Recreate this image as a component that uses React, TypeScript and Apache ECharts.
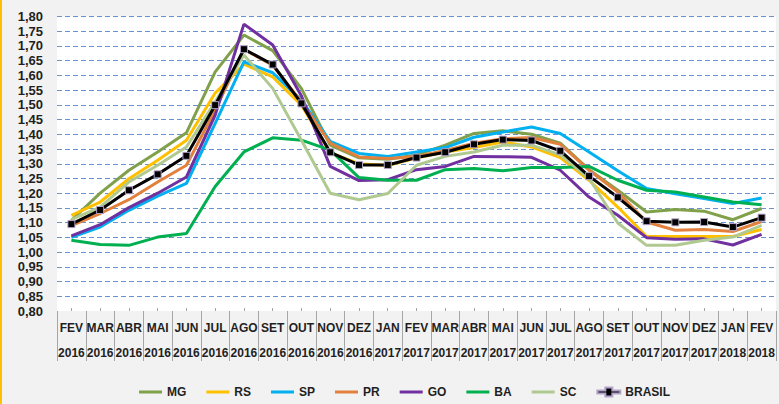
import React, { useEffect, useRef } from "react";
import * as echarts from "echarts";

const categories = [
  "FEV\n2016", "MAR\n2016", "ABR\n2016", "MAI\n2016", "JUN\n2016", "JUL\n2016", "AGO\n2016",
  "SET\n2016", "OUT\n2016", "NOV\n2016", "DEZ\n2016", "JAN\n2017", "FEV\n2017", "MAR\n2017",
  "ABR\n2017", "MAI\n2017", "JUN\n2017", "JUL\n2017", "AGO\n2017", "SET\n2017", "OUT\n2017",
  "NOV\n2017", "DEZ\n2017", "JAN\n2018", "FEV\n2018",
];

const MG = [1.108, 1.2, 1.278, 1.34, 1.405, 1.612, 1.737, 1.684, 1.555, 1.363, 1.32, 1.315, 1.33, 1.363, 1.403, 1.412, 1.4, 1.37, 1.28, 1.21, 1.136, 1.145, 1.139, 1.11, 1.148];
const RS = [1.125, 1.17, 1.249, 1.312, 1.38, 1.54, 1.638, 1.595, 1.499, 1.337, 1.3, 1.294, 1.32, 1.34, 1.355, 1.374, 1.357, 1.321, 1.244, 1.153, 1.053, 1.053, 1.053, 1.053, 1.077];
const SP = [1.05, 1.085, 1.142, 1.19, 1.233, 1.437, 1.646, 1.609, 1.516, 1.376, 1.335, 1.325, 1.34, 1.355, 1.39, 1.408, 1.425, 1.403, 1.34, 1.276, 1.216, 1.198, 1.182, 1.165, 1.184];
const PR = [1.09, 1.131, 1.178, 1.238, 1.295, 1.482, 1.688, 1.635, 1.51, 1.37, 1.323, 1.318, 1.325, 1.345, 1.37, 1.385, 1.389, 1.366, 1.278, 1.204, 1.102, 1.074, 1.077, 1.07, 1.104];
const GO = [1.055, 1.093, 1.151, 1.2, 1.255, 1.465, 1.774, 1.703, 1.53, 1.291, 1.243, 1.246, 1.28, 1.291, 1.325, 1.324, 1.322, 1.278, 1.187, 1.125, 1.049, 1.044, 1.045, 1.024, 1.06];
const BA = [1.04, 1.026, 1.023, 1.051, 1.063, 1.223, 1.34, 1.388, 1.38, 1.346, 1.253, 1.244, 1.244, 1.28, 1.284, 1.276, 1.287, 1.287, 1.291, 1.244, 1.21, 1.204, 1.187, 1.17, 1.161];
const SC = [1.11, 1.153, 1.238, 1.295, 1.357, 1.51, 1.669, 1.556, 1.38, 1.2, 1.178, 1.199, 1.295, 1.325, 1.34, 1.363, 1.363, 1.33, 1.25, 1.099, 1.023, 1.023, 1.04, 1.051, 1.091];
const BRASIL = [1.095, 1.143, 1.21, 1.264, 1.327, 1.499, 1.689, 1.637, 1.505, 1.339, 1.296, 1.296, 1.321, 1.339, 1.366, 1.382, 1.379, 1.344, 1.258, 1.186, 1.105, 1.101, 1.102, 1.085, 1.117];

const seriesDefs = [
  { name: "MG", data: MG, color: "#80a04a" },
  { name: "RS", data: RS, color: "#ffc000" },
  { name: "SP", data: SP, color: "#00b0f0" },
  { name: "PR", data: PR, color: "#e2803e" },
  { name: "GO", data: GO, color: "#7030a0" },
  { name: "BA", data: BA, color: "#00b050" },
  { name: "SC", data: SC, color: "#b0c991" },
];

const FONT = "'Liberation Sans', Arial, sans-serif";
const LINE_ICON = "path://M0,0 L23,0 L23,3 L0,3 Z";
const MARKER_ICON = "path://M0,3 L8,3 L8,0 L15,0 L15,3 L23,3 L23,6 L15,6 L15,9 L8,9 L8,6 L0,6 Z";

export default function App() {
  const ref = useRef<HTMLDivElement>(null);
  useEffect(() => {
    if (!ref.current) return;
    const chart = echarts.init(ref.current, null, { renderer: "svg" });
    const gridColors = ["rgba(0,0,0,0)"];
    for (let i = 0; i < 20; i++) gridColors.push("#6a92cb");
    const series: any[] = seriesDefs.map((s) => ({
      name: s.name,
      type: "line",
      data: s.data,
      symbol: "none",
      lineStyle: { color: s.color, width: 3 },
      itemStyle: { color: s.color },
      xAxisIndex: 0,
    }));
    series.push({
      name: "BRASIL",
      type: "line",
      data: BRASIL,
      symbol: "rect",
      symbolSize: 7,
      showSymbol: true,
      lineStyle: { color: "#000000", width: 3 },
      itemStyle: { color: "#000000", borderColor: "#b3a2c7", borderWidth: 1 },
      xAxisIndex: 0,
      z: 5,
    });
    const legendData: any[] = seriesDefs.map((s) => ({ name: s.name, icon: LINE_ICON }));
    legendData.push({ name: "BRASIL", icon: MARKER_ICON });
    chart.setOption({
      animation: false,
      backgroundColor: "#f2f2f2",
      textStyle: { fontFamily: FONT },
      grid: {
        left: 57,
        right: 3,
        top: 16.5,
        bottom: 93,
        show: true,
        backgroundColor: "#ffffff",
        borderWidth: 0,
      },
      legend: {
        left: 139,
        top: 386,
        padding: 0,
        itemWidth: 23,
        itemHeight: 14,
        itemGap: 20,
        symbolKeepAspect: true,
        textStyle: { fontFamily: FONT, fontWeight: "bold", fontSize: 12, color: "#1f1f1f" },
        data: legendData,
      },
      xAxis: [
        {
          type: "category",
          data: categories,
          boundaryGap: true,
          axisLine: { show: false },
          axisTick: { show: true, length: 50, interval: 0, lineStyle: { color: "#a6a6a6", width: 1 } },
          axisLabel: {
            interval: 0,
            margin: 4,
            fontFamily: FONT,
            fontWeight: "bold",
            fontSize: 12,
            lineHeight: 25,
            color: "#1f1f1f",
          },
          splitLine: { show: false },
        },
        {
          type: "category",
          data: categories,
          boundaryGap: true,
          position: "bottom",
          axisLine: { show: false },
          axisTick: { show: true, inside: true, alignWithLabel: true, length: 3, interval: 0, lineStyle: { color: "#a6a6a6" } },
          axisLabel: { show: false },
          splitLine: { show: false },
        },
      ],
      yAxis: {
        type: "value",
        min: 0.8,
        max: 1.8,
        interval: 0.05,
        axisLine: { show: false },
        axisTick: { show: false },
        axisLabel: {
          margin: 14,
          fontFamily: FONT,
          fontWeight: "bold",
          fontSize: 13,
          color: "#1f1f1f",
          formatter: (v: number) => v.toFixed(2).replace(".", ","),
        },
        splitLine: { show: true, lineStyle: { color: gridColors, type: [5, 3], width: 1 } },
      },
      graphic: [
        { type: "rect", left: 0, top: 0, shape: { width: 2, height: 404 }, style: { fill: "#ffc000" }, z: 100 },
      ],
      series,
    });
    return () => chart.dispose();
  }, []);
  return (
    <div
      ref={ref}
      style={{ position: "fixed", left: 0, top: 0, width: 779, height: 404 }}
    />
  );
}
